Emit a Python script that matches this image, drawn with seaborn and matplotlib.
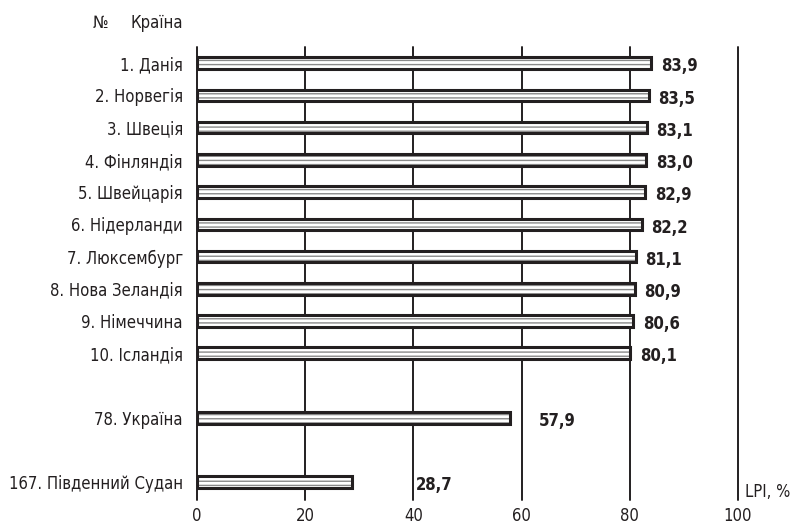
import matplotlib
matplotlib.use("Agg")
import matplotlib.pyplot as plt
import seaborn as sns
import pandas as pd

# LPI values, top-10 countries plus Ukraine and South Sudan
countries = ["1. Данія", "2. Норвегія", "3. Швеція", "4. Фінляндія", "5. Швейцарія",
             "6. Нідерланди", "7. Люксембург", "8. Нова Зеландія", "9. Німеччина",
             "10. Ісландія", "78. Україна", "167. Південний Судан"]
lpi = [83.9, 83.5, 83.1, 83.0, 82.9, 82.2, 81.1, 80.9, 80.6, 80.1, 57.9, 28.7]
slots = [0, 1, 2, 3, 4, 5, 6, 7, 8, 9, 11, 13]
label_gap = [1.8, 1.8, 1.8, 1.8, 1.8, 1.8, 1.8, 1.8, 1.8, 1.8, 5.2, 11.8]
ticks = [0, 20, 40, 60, 80, 100]

df = pd.DataFrame({"country": countries, "lpi": lpi, "slot": slots})

sns.set_style("white")
plt.rcParams["font.family"] = ["DejaVu Sans Condensed", "DejaVu Sans"]
plt.rcParams["font.stretch"] = "condensed"
plt.rcParams["hatch.color"] = "#8a8a8a"
plt.rcParams["hatch.linewidth"] = 1.0

ink = "#231f20"
fig = plt.figure(figsize=(7.97, 5.29), dpi=100)
ax = fig.add_axes([0.247, 0.055, 0.679, 0.856])

# striped fill
sns.barplot(data=df, x="lpi", y="slot", orient="h", native_scale=True,
            color="white", edgecolor="#8a8a8a", linewidth=0, hatch="----",
            width=0.36, ax=ax)
# black outline on top
sns.barplot(data=df, x="lpi", y="slot", orient="h", native_scale=True,
            fill=False, edgecolor=ink, linewidth=2.2, width=0.36, ax=ax)

for v, s, g in zip(lpi, slots, label_gap):
    ax.text(v + g, s + 0.1, f"{v:.1f}".replace(".", ","), ha="left", va="center",
            fontsize=12, fontweight="bold", color=ink)

for t in ticks:
    ax.axvline(t, color=ink, linewidth=1.4, zorder=0, clip_on=False)

ax.set_xlim(0, 100)
ax.set_ylim(13.55, -0.5)
ax.set_xticks(ticks)
ax.set_xticklabels([str(t) for t in ticks], fontsize=12, color=ink)
ax.set_yticks(slots)
ax.set_yticklabels(countries, fontsize=12, color=ink)
ax.tick_params(axis="y", length=0, pad=10)
ax.tick_params(axis="x", length=0, pad=5)
ax.set_xlabel("")
ax.set_ylabel("")
for sp in ax.spines.values():
    sp.set_visible(False)

ax.text(101.2, 13.3, "LPI, %", ha="left", va="center", fontsize=12, color=ink)
fig.text(93 / 797, 1 - 23 / 529, "№", ha="left", va="center", fontsize=12, color=ink)
fig.text(130 / 797, 1 - 23 / 529, "Країна", ha="left", va="center", fontsize=12, color=ink)

fig.savefig("out.png", dpi=100)
